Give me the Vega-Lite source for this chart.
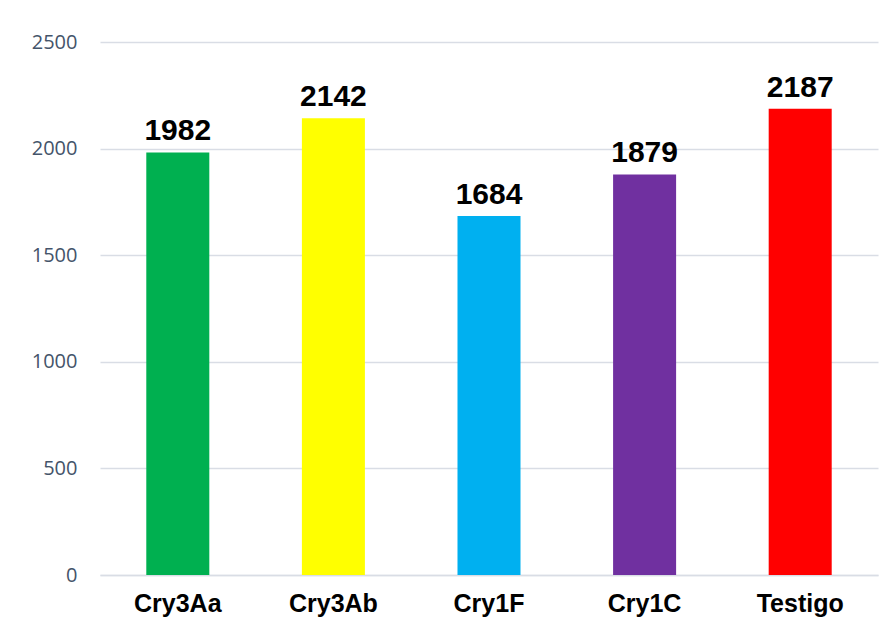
{
  "$schema": "https://vega.github.io/schema/vega-lite/v6.json",
  "width": 778,
  "height": 533,
  "autosize": {"type": "none"},
  "padding": {"left": 100, "top": 42, "right": 18, "bottom": 56},
  "background": "white",
  "config": {"view": {"stroke": null}},
  "data": {"values": [
    {"cat": "Cry3Aa", "val": 1982, "color": "#00B050"},
    {"cat": "Cry3Ab", "val": 2142, "color": "#FFFF00"},
    {"cat": "Cry1F", "val": 1684, "color": "#00B0F0"},
    {"cat": "Cry1C", "val": 1879, "color": "#7030A0"},
    {"cat": "Testigo", "val": 2187, "color": "#FF0000"}
  ]},
  "encoding": {
    "x": {"field": "cat", "type": "nominal", "sort": null,
      "scale": {"paddingInner": 0.595, "paddingOuter": 0.2975},
      "axis": {"title": null, "labelAngle": 0, "labelFont": "Liberation Sans", "labelFontWeight": "bold", "labelFontSize": 25, "labelColor": "#000000", "labelPadding": 16, "ticks": false, "domainColor": "#D9DDE5", "domainWidth": 1.5, "grid": false}},
    "y": {"field": "val", "type": "quantitative",
      "scale": {"domain": [0, 2500], "nice": false},
      "axis": {"title": null, "values": [0, 500, 1000, 1500, 2000, 2500], "format": "d", "labelFont": "Open Sans", "labelFontSize": 20, "labelColor": "#44546A", "labelPadding": 23, "ticks": false, "domain": false, "gridColor": "#D9DDE5", "gridWidth": 1.5}}
  },
  "layer": [
    {"mark": {"type": "bar"}, "encoding": {"color": {"field": "color", "type": "nominal", "scale": null}}},
    {"mark": {"type": "text", "baseline": "alphabetic", "dy": -12, "font": "Liberation Sans", "fontWeight": "bold", "fontSize": 30, "color": "#000000"},
      "encoding": {"text": {"field": "val", "type": "quantitative", "format": "d"}}}
  ]
}
